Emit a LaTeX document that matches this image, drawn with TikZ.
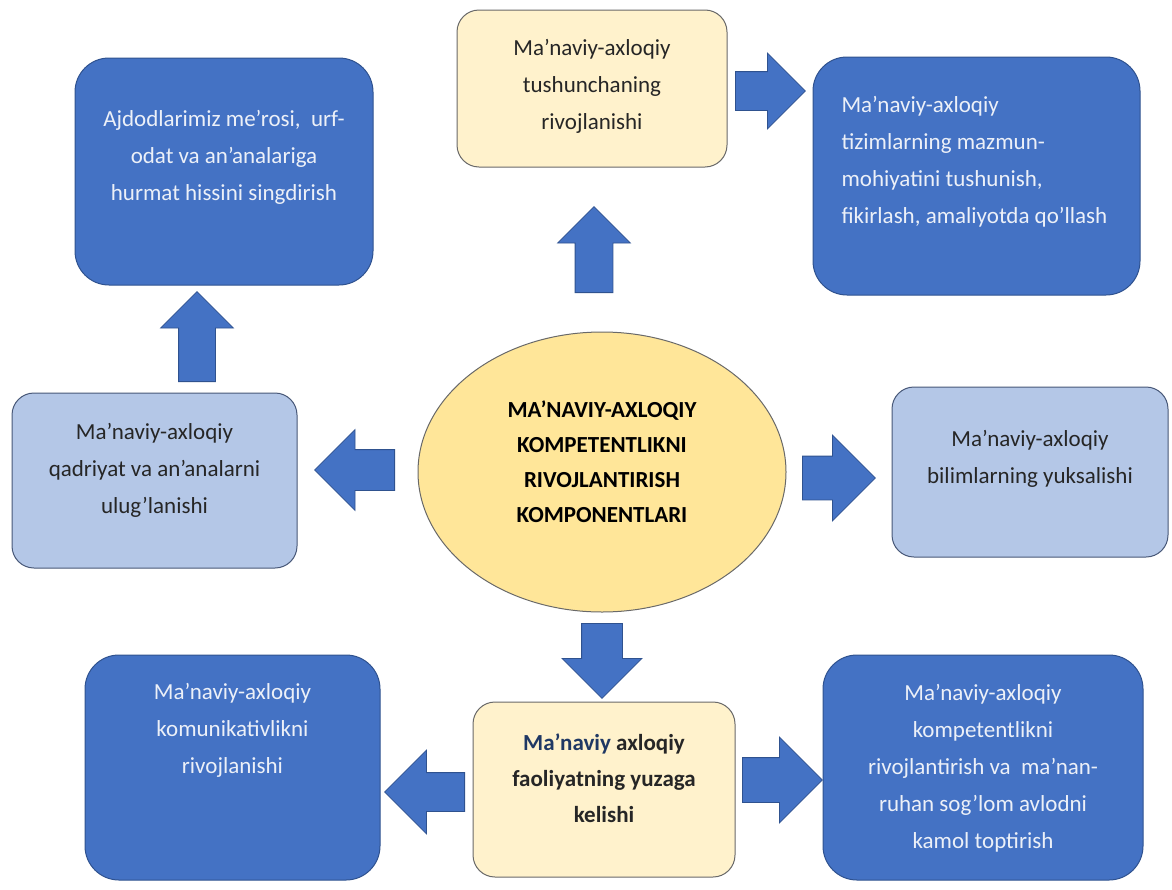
\documentclass[tikz,border=0pt]{standalone}
\usepackage{fontspec}
\setmainfont{Carlito}
\definecolor{accblue}{RGB}{68, 114, 196}
\definecolor{accedge}{RGB}{47, 82, 143}
\definecolor{paleblue}{RGB}{180, 199, 231}
\definecolor{paleedge}{RGB}{72, 88, 120}
\definecolor{cream1}{RGB}{255, 242, 204}
\definecolor{gold1}{RGB}{255, 230, 153}
\definecolor{greyedge}{RGB}{105, 105, 105}
\definecolor{inktxt}{RGB}{38, 38, 38}
\definecolor{navytxt}{RGB}{31, 56, 100}
\definecolor{softwhite}{RGB}{236, 240, 248}
\usetikzlibrary{shapes.geometric, shapes.arrows, positioning}

\begin{document}
\begin{tikzpicture}[x=1pt, y=-1pt,
  darkbox/.style={draw=accedge, fill=accblue, line width=1pt, rounded corners=34pt},
  palebox/.style={draw=paleedge, fill=paleblue, line width=1pt, rounded corners=22pt},
  creambox/.style={draw=greyedge, fill=cream1, line width=1pt, rounded corners=22pt},
  boxtext/.style={align=center, text=inktxt, font=\fontsize{23}{37}\selectfont},
  lighttext/.style={boxtext, text=softwhite},
  blockarr/.style={single arrow, draw=accedge, fill=accblue, line width=0.8pt, inner sep=0pt, anchor=tail},
  harr/.style={blockarr, inner ysep=#1},
  varr/.style={blockarr, inner xsep=#1}]
  \useasboundingbox (0,0) rectangle (1172,889);

  % boxes
  \node[darkbox, minimum width=298pt, minimum height=227pt] (anc) at (224, 171.5) {};
  \node[creambox, minimum width=270pt, minimum height=157pt] (tush) at (592, 88.5) {};
  \node[darkbox, minimum width=327pt, minimum height=238pt] (tizim) at (976.5, 176) {};
  \node[palebox, minimum width=285pt, minimum height=175pt] (qadr) at (154.5, 480.5) {};
  \node[ellipse, draw=greyedge, fill=gold1, line width=1pt, minimum width=368pt, minimum height=280pt] (ell) at (602, 472) {};
  \node[palebox, minimum width=276pt, minimum height=170pt] (bil) at (1030, 472) {};
  \node[darkbox, minimum width=295pt, minimum height=225pt] (kom) at (232.5, 767.5) {};
  \node[creambox, minimum width=262pt, minimum height=175pt] (fao) at (604, 789.5) {};
  \node[darkbox, minimum width=320pt, minimum height=225pt] (kam) at (983, 767.5) {};

  % texts
  \node[lighttext] (anc-t) at (224, 157) {Ajdodlarimiz me’rosi,\ \ urf-\\odat va an’analariga\\hurmat hissini singdirish};
  \node[boxtext] (tush-t) at (592, 86) {Ma’naviy-axloqiy\\tushunchaning\\rivojlanishi};
  \node[lighttext, align=left, anchor=west] (tizim-t) at (838, 162) {Ma’naviy-axloqiy\\tizimlarning mazmun-\\mohiyatini tushunish,\\fikirlash, amaliyotda qo’llash};
  \node[boxtext] (qadr-t) at (154.5, 470) {Ma’naviy-axloqiy\\qadriyat va an’analarni\\ulug’lanishi};
  \node[boxtext, font=\fontsize{23}{35}\selectfont\bfseries, text=black] (ell-t) at (602, 462) {MA’NAVIY-AXLOQIY\\KOMPETENTLIKNI\\RIVOJLANTIRISH\\KOMPONENTLARI};
  \node[boxtext] (bil-t) at (1030, 459) {Ma’naviy-axloqiy\\bilimlarning yuksalishi};
  \node[lighttext] (kom-t) at (232.5, 730) {Ma’naviy-axloqiy\\komunikativlikni\\rivojlanishi};
  \node[boxtext, font=\fontsize{23}{36}\selectfont\bfseries] (fao-t) at (604, 778) {\textcolor{navytxt}{Ma’naviy} axloqiy\\faoliyatning yuzaga\\kelishi};
  \node[lighttext] (kam-t) at (983, 768) {Ma’naviy-axloqiy\\kompetentlikni\\rivojlantirish va\ \ ma’nan-\\ruhan sog’lom avlodni\\kamol toptirish};

  % block arrows
  \node[varr=18.5pt, shape border rotate=90, minimum height=86pt, single arrow head extend=17.5pt] (up-top) at (594, 293) {};
  \node[harr=19pt, minimum height=70pt, single arrow head extend=18.5pt] (right-top) at (735, 91) {};
  \node[varr=18pt, shape border rotate=90, minimum height=90pt, single arrow head extend=18pt] (up-left) at (197, 382) {};
  \node[harr=20pt, shape border rotate=180, minimum height=80pt, single arrow head extend=20pt] (left-mid) at (395, 470) {};
  \node[harr=21.5pt, minimum height=73pt, single arrow head extend=21pt] (right-mid) at (802, 478) {};
  \node[varr=20pt, shape border rotate=270, minimum height=75pt, single arrow head extend=19.5pt] (down-mid) at (602, 623) {};
  \node[harr=19pt, shape border rotate=180, minimum height=80pt, single arrow head extend=22.5pt] (left-bot) at (465, 792) {};
  \node[harr=22pt, minimum height=80pt, single arrow head extend=20.5pt] (right-bot) at (742, 780) {};
\end{tikzpicture}
\end{document}
